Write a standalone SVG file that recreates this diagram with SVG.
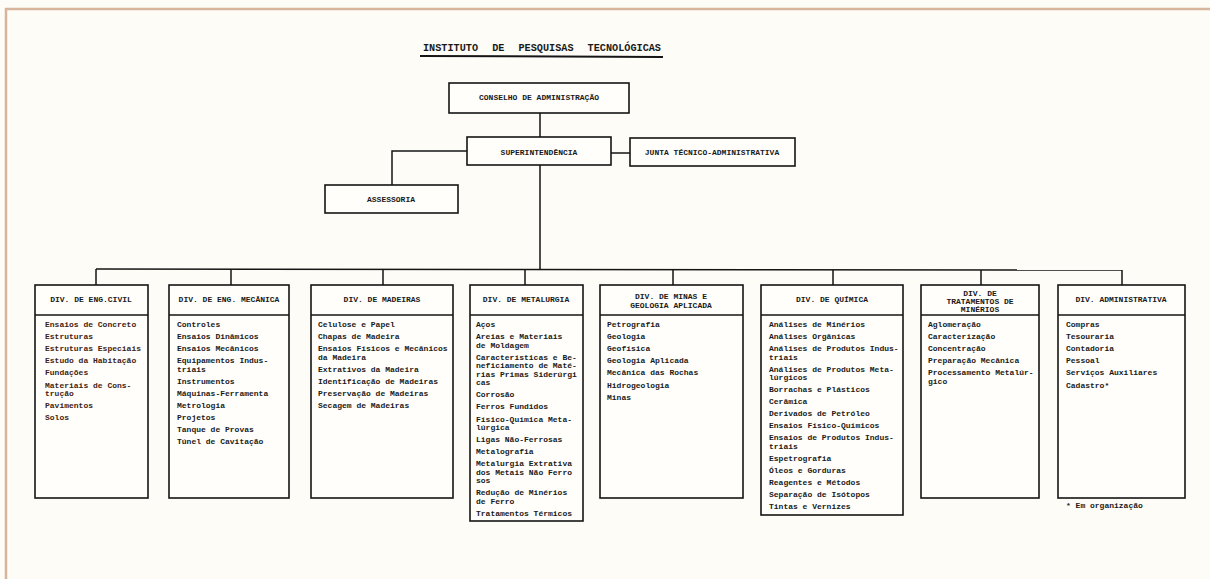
<svg xmlns="http://www.w3.org/2000/svg" width="1210" height="579" viewBox="0 0 1210 579">
<style>
.bg{fill:#fdfcf7}
.frame{stroke:#d6b59c;stroke-width:2.5;fill:none}
.box{fill:#fffefa;stroke:#151515;stroke-width:1.6}
.sep{stroke:#151515;stroke-width:1.4}
.ln{stroke:#151515;stroke-width:1.5;fill:none}
text{font-family:"Liberation Mono","DejaVu Sans Mono",monospace;font-weight:bold;font-size:8px;fill:#1a1a1a}
.h{text-anchor:middle}
.civ{fill:#3e1c14}
.title{font-size:10.2px;word-spacing:8px}
</style>
<rect class="bg" x="0" y="0" width="1210" height="579"/>
<path class="frame" d="M6,579 V9 H1210"/>

<g id="title">
<text class="title" x="423" y="51">INSTITUTO DE PESQUISAS TECNOLÓGICAS</text>
<line x1="420" y1="56" x2="663" y2="57" stroke="#151515" stroke-width="2"/>
</g>

<g id="connectors">
<line class="ln" x1="540" y1="113" x2="540" y2="137"/>
<line class="ln" x1="611" y1="153" x2="630" y2="153" stroke-width="2"/>
<polyline class="ln" points="467,151 392,151 392,185" stroke-width="2"/>
<line class="ln" x1="540" y1="165" x2="540" y2="269"/>
<line class="ln" x1="96" y1="269" x2="1122" y2="270" stroke-width="2"/>
<line class="ln" x1="96" y1="269" x2="96" y2="285"/>
<line class="ln" x1="231" y1="269" x2="231" y2="285"/>
<line class="ln" x1="383" y1="269" x2="383" y2="285"/>
<line class="ln" x1="525" y1="269" x2="525" y2="285"/>
<line class="ln" x1="673" y1="269" x2="673" y2="285"/>
<line class="ln" x1="833" y1="270" x2="833" y2="285"/>
<line class="ln" x1="981" y1="270" x2="981" y2="285"/>
<line class="ln" x1="1122" y1="270" x2="1122" y2="285"/>
</g>

<g id="conselho">
<rect class="box" x="449" y="83" width="180" height="30"/>
<text class="h" x="539" y="100">CONSELHO DE ADMINISTRAÇÃO</text>
</g>
<g id="superintendencia">
<rect class="box" x="467" y="137" width="144" height="28"/>
<text class="h" x="539" y="155">SUPERINTENDÊNCIA</text>
</g>
<g id="junta">
<rect class="box" x="630" y="138" width="165" height="28"/>
<text class="h" x="712" y="155">JUNTA TÉCNICO-ADMINISTRATIVA</text>
</g>
<g id="assessoria">
<rect class="box" x="325" y="185" width="133" height="28"/>
<text class="h" x="391" y="202">ASSESSORIA</text>
</g>

<g id="div-civil">
<rect class="box" x="35" y="285" width="113" height="213"/>
<line class="sep" x1="35" y1="315" x2="148" y2="315"/>
<text class="h" x="91" y="302">DIV. DE ENG.CIVIL</text>
<text class="civ" x="45" y="327">Ensaios de Concreto</text>
<text class="civ" x="45" y="339.1">Estruturas</text>
<text class="civ" x="45" y="351.2">Estruturas Especiais</text>
<text class="civ" x="45" y="363.3">Estudo da Habitação</text>
<text class="civ" x="45" y="375.4">Fundações</text>
<text class="civ" x="45" y="387.5">Materiais de Cons-</text>
<text class="civ" x="45" y="396">trução</text>
<text class="civ" x="45" y="408.1">Pavimentos</text>
<text class="civ" x="45" y="420.2">Solos</text>
</g>

<g id="div-mecanica">
<rect class="box" x="169" y="285" width="120" height="213"/>
<line class="sep" x1="169" y1="315" x2="289" y2="315"/>
<text class="h" x="229" y="302">DIV. DE ENG. MECÂNICA</text>
<text x="177" y="327">Controles</text>
<text x="177" y="339.1">Ensaios Dinâmicos</text>
<text x="177" y="351.2">Ensaios Mecânicos</text>
<text x="177" y="363.3">Equipamentos Indus-</text>
<text x="177" y="371.8">triais</text>
<text x="177" y="383.9">Instrumentos</text>
<text x="177" y="396">Máquinas-Ferramenta</text>
<text x="177" y="408.1">Metrologia</text>
<text x="177" y="420.2">Projetos</text>
<text x="177" y="432.3">Tanque de Provas</text>
<text x="177" y="444.4">Túnel de Cavitação</text>
</g>

<g id="div-madeiras">
<rect class="box" x="311" y="285" width="142" height="213"/>
<line class="sep" x1="311" y1="315" x2="453" y2="315"/>
<text class="h" x="382" y="302">DIV. DE MADEIRAS</text>
<text x="318" y="327">Celulose e Papel</text>
<text x="318" y="339.1">Chapas de Madeira</text>
<text x="318" y="351.2">Ensaios Físicos e Mecânicos</text>
<text x="318" y="359.7">da Madeira</text>
<text x="318" y="371.8">Extrativos da Madeira</text>
<text x="318" y="383.9">Identificação de Madeiras</text>
<text x="318" y="396">Preservação de Madeiras</text>
<text x="318" y="408.1">Secagem de Madeiras</text>
</g>

<g id="div-metalurgia">
<rect class="box" x="470" y="285" width="113" height="236"/>
<line class="sep" x1="470" y1="315" x2="583" y2="315"/>
<text class="h" x="526" y="302">DIV. DE METALURGIA</text>
<text x="476" y="327">Aços</text>
<text x="476" y="339.1">Areias e Materiais</text>
<text x="476" y="347.6">de Moldagem</text>
<text x="476" y="359.7">Características e Be-</text>
<text x="476" y="368.2">neficiamento de Maté-</text>
<text x="476" y="376.7">rias Primas Siderúrgi</text>
<text x="476" y="385.2">cas</text>
<text x="476" y="397.3">Corrosão</text>
<text x="476" y="409.4">Ferros Fundidos</text>
<text x="476" y="421.5">Físico-Química Meta-</text>
<text x="476" y="430">lúrgica</text>
<text x="476" y="442.1">Ligas Não-Ferrosas</text>
<text x="476" y="454.2">Metalografia</text>
<text x="476" y="466.3">Metalurgia Extrativa</text>
<text x="476" y="474.8">dos Metais Não Ferro</text>
<text x="476" y="483.3">sos</text>
<text x="476" y="495.4">Redução de Minérios</text>
<text x="476" y="503.9">de Ferro</text>
<text x="476" y="516">Tratamentos Térmicos</text>
</g>

<g id="div-minas">
<rect class="box" x="600" y="285" width="143" height="213"/>
<line class="sep" x1="600" y1="315" x2="743" y2="315"/>
<text class="h" x="671" y="299">DIV. DE MINAS E</text>
<text class="h" x="671" y="307.5">GEOLOGIA APLICADA</text>
<text x="607" y="327">Petrografia</text>
<text x="607" y="339.1">Geologia</text>
<text x="607" y="351.2">Geofísica</text>
<text x="607" y="363.3">Geologia Aplicada</text>
<text x="607" y="375.4">Mecânica das Rochas</text>
<text x="607" y="387.5">Hidrogeologia</text>
<text x="607" y="399.6">Minas</text>
</g>

<g id="div-quimica">
<rect class="box" x="761" y="285" width="142" height="230"/>
<line class="sep" x1="761" y1="315" x2="903" y2="315"/>
<text class="h" x="832" y="302">DIV. DE QUÍMICA</text>
<text x="769" y="327">Análises de Minérios</text>
<text x="769" y="339">Análises Orgânicas</text>
<text x="769" y="351">Análises de Produtos Indus-</text>
<text x="769" y="359.5">triais</text>
<text x="769" y="371.5">Análises de Produtos Meta-</text>
<text x="769" y="380">lúrgicos</text>
<text x="769" y="392">Borrachas e Plásticos</text>
<text x="769" y="404">Cerâmica</text>
<text x="769" y="416">Derivados de Petróleo</text>
<text x="769" y="428">Ensaios Físico-Químicos</text>
<text x="769" y="440">Ensaios de Produtos Indus-</text>
<text x="769" y="448.5">triais</text>
<text x="769" y="460.5">Espetrografia</text>
<text x="769" y="472.5">Óleos e Gorduras</text>
<text x="769" y="484.5">Reagentes e Métodos</text>
<text x="769" y="496.5">Separação de Isótopos</text>
<text x="769" y="508.5">Tintas e Vernizes</text>
</g>

<g id="div-tratamentos">
<rect class="box" x="921" y="285" width="118" height="213"/>
<line class="sep" x1="921" y1="315" x2="1039" y2="315"/>
<text class="h" x="980" y="296">DIV. DE</text>
<text class="h" x="980" y="304">TRATAMENTOS DE</text>
<text class="h" x="980" y="312">MINÉRIOS</text>
<text x="928" y="327">Aglomeração</text>
<text x="928" y="339.1">Caracterização</text>
<text x="928" y="351.2">Concentração</text>
<text x="928" y="363.3">Preparação Mecânica</text>
<text x="928" y="375.4">Processamento Metalúr-</text>
<text x="928" y="383.9">gico</text>
</g>

<g id="div-administrativa">
<rect class="box" x="1058" y="285" width="127" height="213"/>
<line class="sep" x1="1058" y1="315" x2="1185" y2="315"/>
<text class="h" x="1121" y="302">DIV. ADMINISTRATIVA</text>
<text x="1066" y="327">Compras</text>
<text x="1066" y="339.1">Tesouraria</text>
<text x="1066" y="351.2">Contadoria</text>
<text x="1066" y="363.3">Pessoal</text>
<text x="1066" y="375.4">Serviços Auxiliares</text>
<text x="1066" y="387.5">Cadastro*</text>
</g>

<g id="nota">
<text x="1066" y="508">* Em organização</text>
</g>
</svg>
